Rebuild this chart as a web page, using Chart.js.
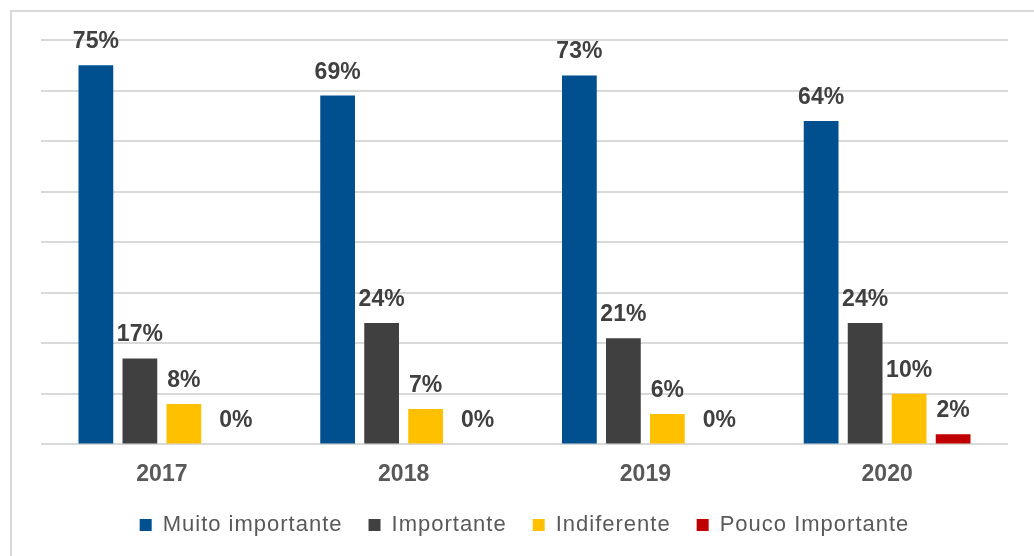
<!DOCTYPE html>
<html>
<head>
<meta charset="utf-8">
<script src="https://cdn.jsdelivr.net/npm/chart.js@4"></script>
<style>
  body { margin: 0; background: #fff; }
  #wrap { position: relative; width: 1034px; height: 556px; overflow: hidden; }
  #frame { position: absolute; left: 10px; top: 10px; width: 1100px; height: 600px;
           border-left: 2px solid #d9d9d9; border-top: 2px solid #d9d9d9; }
  canvas { position: absolute; left: 0; top: 0; }
</style>
</head>
<body>
<div id="wrap">
  <div id="frame"></div>
  <canvas id="myChart" width="1034" height="556"></canvas>
</div>
<script>
// data
const years = ['2017', '2018', '2019', '2020'];
const muitoImportante = [75, 69, 73, 64];
const importante = [17, 24, 21, 24];
const indiferente = [8, 7, 6, 10];
const poucoImportante = [0, 0, 0, 2];

// bold % labels above each bar
const barLabels = {
  id: 'barLabels',
  afterDatasetsDraw(chart) {
    const ctx = chart.ctx;
    ctx.save();
    ctx.font = 'bold 23px "Liberation Sans", Arial, sans-serif';
    ctx.fillStyle = '#404040';
    ctx.textAlign = 'center';
    ctx.textBaseline = 'alphabetic';
    chart.data.datasets.forEach((ds, i) => {
      const meta = chart.getDatasetMeta(i);
      meta.data.forEach((bar, j) => {
        const v = ds.data[j];
        const shift = v === 0 ? 8 : 0; // excel nudges the empty ones a bit
        ctx.fillText(v + '%', bar.x + shift, bar.y - 17);
      });
    });
    ctx.restore();
  }
};

// legend text in the picture is a bit wider than plain arial
const wideLegend = {
  id: 'wideLegend',
  afterInit(chart) {
    const lg = chart.legend;
    if (!lg) return;
    ['fit', 'draw'].forEach(fn => {
      const orig = lg[fn].bind(lg);
      lg[fn] = function () {
        chart.ctx.save();
        chart.ctx.letterSpacing = '1px';
        orig();
        chart.ctx.restore();
      };
    });
  }
};

function initChart() {
  const ctx = document.getElementById('myChart');
  return new Chart(ctx, {
    type: 'bar',
    data: {
      labels: years,
      datasets: [
        { label: 'Muito importante', data: muitoImportante, backgroundColor: '#00508f' },
        { label: 'Importante', data: importante, backgroundColor: '#404040' },
        { label: 'Indiferente', data: indiferente, backgroundColor: '#ffc000' },
        { label: 'Pouco Importante', data: poucoImportante, backgroundColor: '#c00000' }
      ]
    },
    options: {
      responsive: false,
      animation: false,
      datasets: {
        bar: { categoryPercentage: 0.728, barPercentage: 0.79 }
      },
      layout: { padding: { left: 41, right: 26, top: 40, bottom: 10 } },
      plugins: {
        tooltip: { enabled: false },
        legend: {
          position: 'bottom',
          labels: {
            boxWidth: 12,
            boxHeight: 12,
            padding: 26,
            color: '#595959',
            font: { family: '"Liberation Sans", Arial, sans-serif', size: 22 }
          }
        }
      },
      scales: {
        x: {
          grid: { display: false, drawTicks: false },
          border: { display: false },
          ticks: {
            padding: 16,
            color: '#595959',
            font: { family: '"Liberation Sans", Arial, sans-serif', size: 23, weight: 'bold' }
          },
          // pull the plot down so the baseline sits where the picture has it
          afterFit(scale) { scale.height -= 16; }
        },
        y: {
          min: 0,
          max: 80,
          ticks: { display: false, stepSize: 10 },
          grid: { color: '#d9d9d9', lineWidth: 2, drawTicks: false },
          border: { display: false }
        }
      }
    },
    plugins: [barLabels, wideLegend]
  });
}

document.addEventListener('DOMContentLoaded', () => initChart());
</script>
</body>
</html>
